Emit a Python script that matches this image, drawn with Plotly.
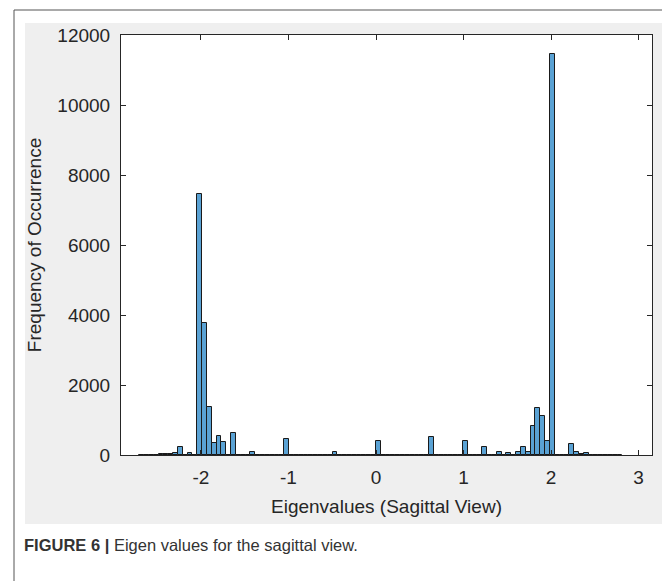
import plotly.graph_objects as go

# Histogram data (MATLAB-style 100 bins)
hist_start = -2.705
bin_width = 0.0552
counts = [
    3, 5, 5, 8, 15, 20, 40, 45, 220, 10,
    50, 0, 7450, 3770, 1360, 345, 530, 365, 0, 625,
    0, 0, 0, 75, 0, 12, 0, 0, 0, 0,
    455, 0, 0, 0, 0, 0, 0, 0, 0, 0,
    100, 0, 0, 0, 0, 0, 0, 0, 0, 400,
    0, 0, 0, 0, 0, 0, 0, 0, 0, 0,
    520, 0, 0, 0, 0, 0, 0, 390, 0, 0,
    0, 225, 0, 0, 80, 0, 50, 0, 95, 220,
    72, 835, 1340, 1108, 395, 11450, 0, 0, 0, 302,
    75, 35, 55, 10, 8, 5, 5, 4, 3, 2,
]
x_ticks = [-2, -1, 0, 1, 2, 3]
y_ticks = [0, 2000, 4000, 6000, 8000, 10000, 12000]
x_title = "Eigenvalues (Sagittal View)"
y_title = "Frequency of Occurrence"
caption_bold = "FIGURE 6 |"
caption_text = " Eigen values for the sagittal view."

centers = [hist_start + (i + 0.5) * bin_width for i in range(len(counts))]

fig = go.Figure(go.Bar(
    x=centers, y=counts, width=bin_width,
    marker=dict(color="rgb(90,162,212)", line=dict(color="#1a1a1a", width=1)),
    hoverinfo="x+y",
))

OFF = 8  # page body margin offset
W, H = 670 - OFF, 581 - OFF
L, R, T = 121 - OFF, 18, 35 - OFF
ph = 420
B = H - T - ph
pw = W - L - R

def xp(px):
    return (px - OFF - L) / pw

def yp(py):
    return (T + ph - (py - OFF)) / ph

font_family = "Liberation Sans, Arial, Helvetica, sans-serif"
axcol = "#262626"
fs = 19

shapes = [
    dict(type="rect", xref="paper", yref="paper", x0=xp(14), x1=xp(668), y0=yp(10), y1=yp(600),
         line=dict(color="#555555", width=1), fillcolor="white", layer="below"),
    dict(type="rect", xref="paper", yref="paper", x0=xp(25), x1=xp(665), y0=yp(23), y1=yp(524),
         line=dict(width=0), fillcolor="#efefef", layer="below"),
    dict(type="rect", xref="paper", yref="paper", x0=0, x1=1, y0=0, y1=1,
         line=dict(width=0), fillcolor="white", layer="below"),
]

fig.update_layout(
    width=W, height=H,
    margin=dict(l=L, r=R, t=T, b=B, autoexpand=False),
    paper_bgcolor="white", plot_bgcolor="white",
    showlegend=False, bargap=0,
    font=dict(family=font_family, size=fs, color=axcol),
    shapes=shapes,
    annotations=[dict(
        xref="paper", yref="paper", x=xp(22), y=yp(545), xanchor="left", yanchor="middle",
        text="<b>" + caption_bold + "</b>" + caption_text, showarrow=False,
        font=dict(family=font_family, size=16.5, color="#333333"),
    )],
)
fig.update_xaxes(
    range=[-2.914, 3.154], tickvals=x_ticks, ticktext=[str(t) for t in x_ticks],
    ticks="inside", ticklen=5, tickcolor=axcol, showline=True, linecolor=axcol, linewidth=1,
    mirror="ticks", showgrid=False, zeroline=False, ticklabelstandoff=5,
    title=dict(text=x_title, standoff=12, font=dict(size=fs, color=axcol)),
    tickfont=dict(size=fs, color=axcol),
)
fig.update_yaxes(
    range=[0, 12000], tickvals=y_ticks, ticktext=[str(t) for t in y_ticks],
    ticks="inside", ticklen=5, tickcolor=axcol, showline=True, linecolor=axcol, linewidth=1,
    mirror="ticks", showgrid=False, zeroline=False, ticklabelstandoff=6,
    title=dict(text=y_title, standoff=10, font=dict(size=fs, color=axcol)),
    tickfont=dict(size=fs, color=axcol),
)

fig.write_html("out.html")
